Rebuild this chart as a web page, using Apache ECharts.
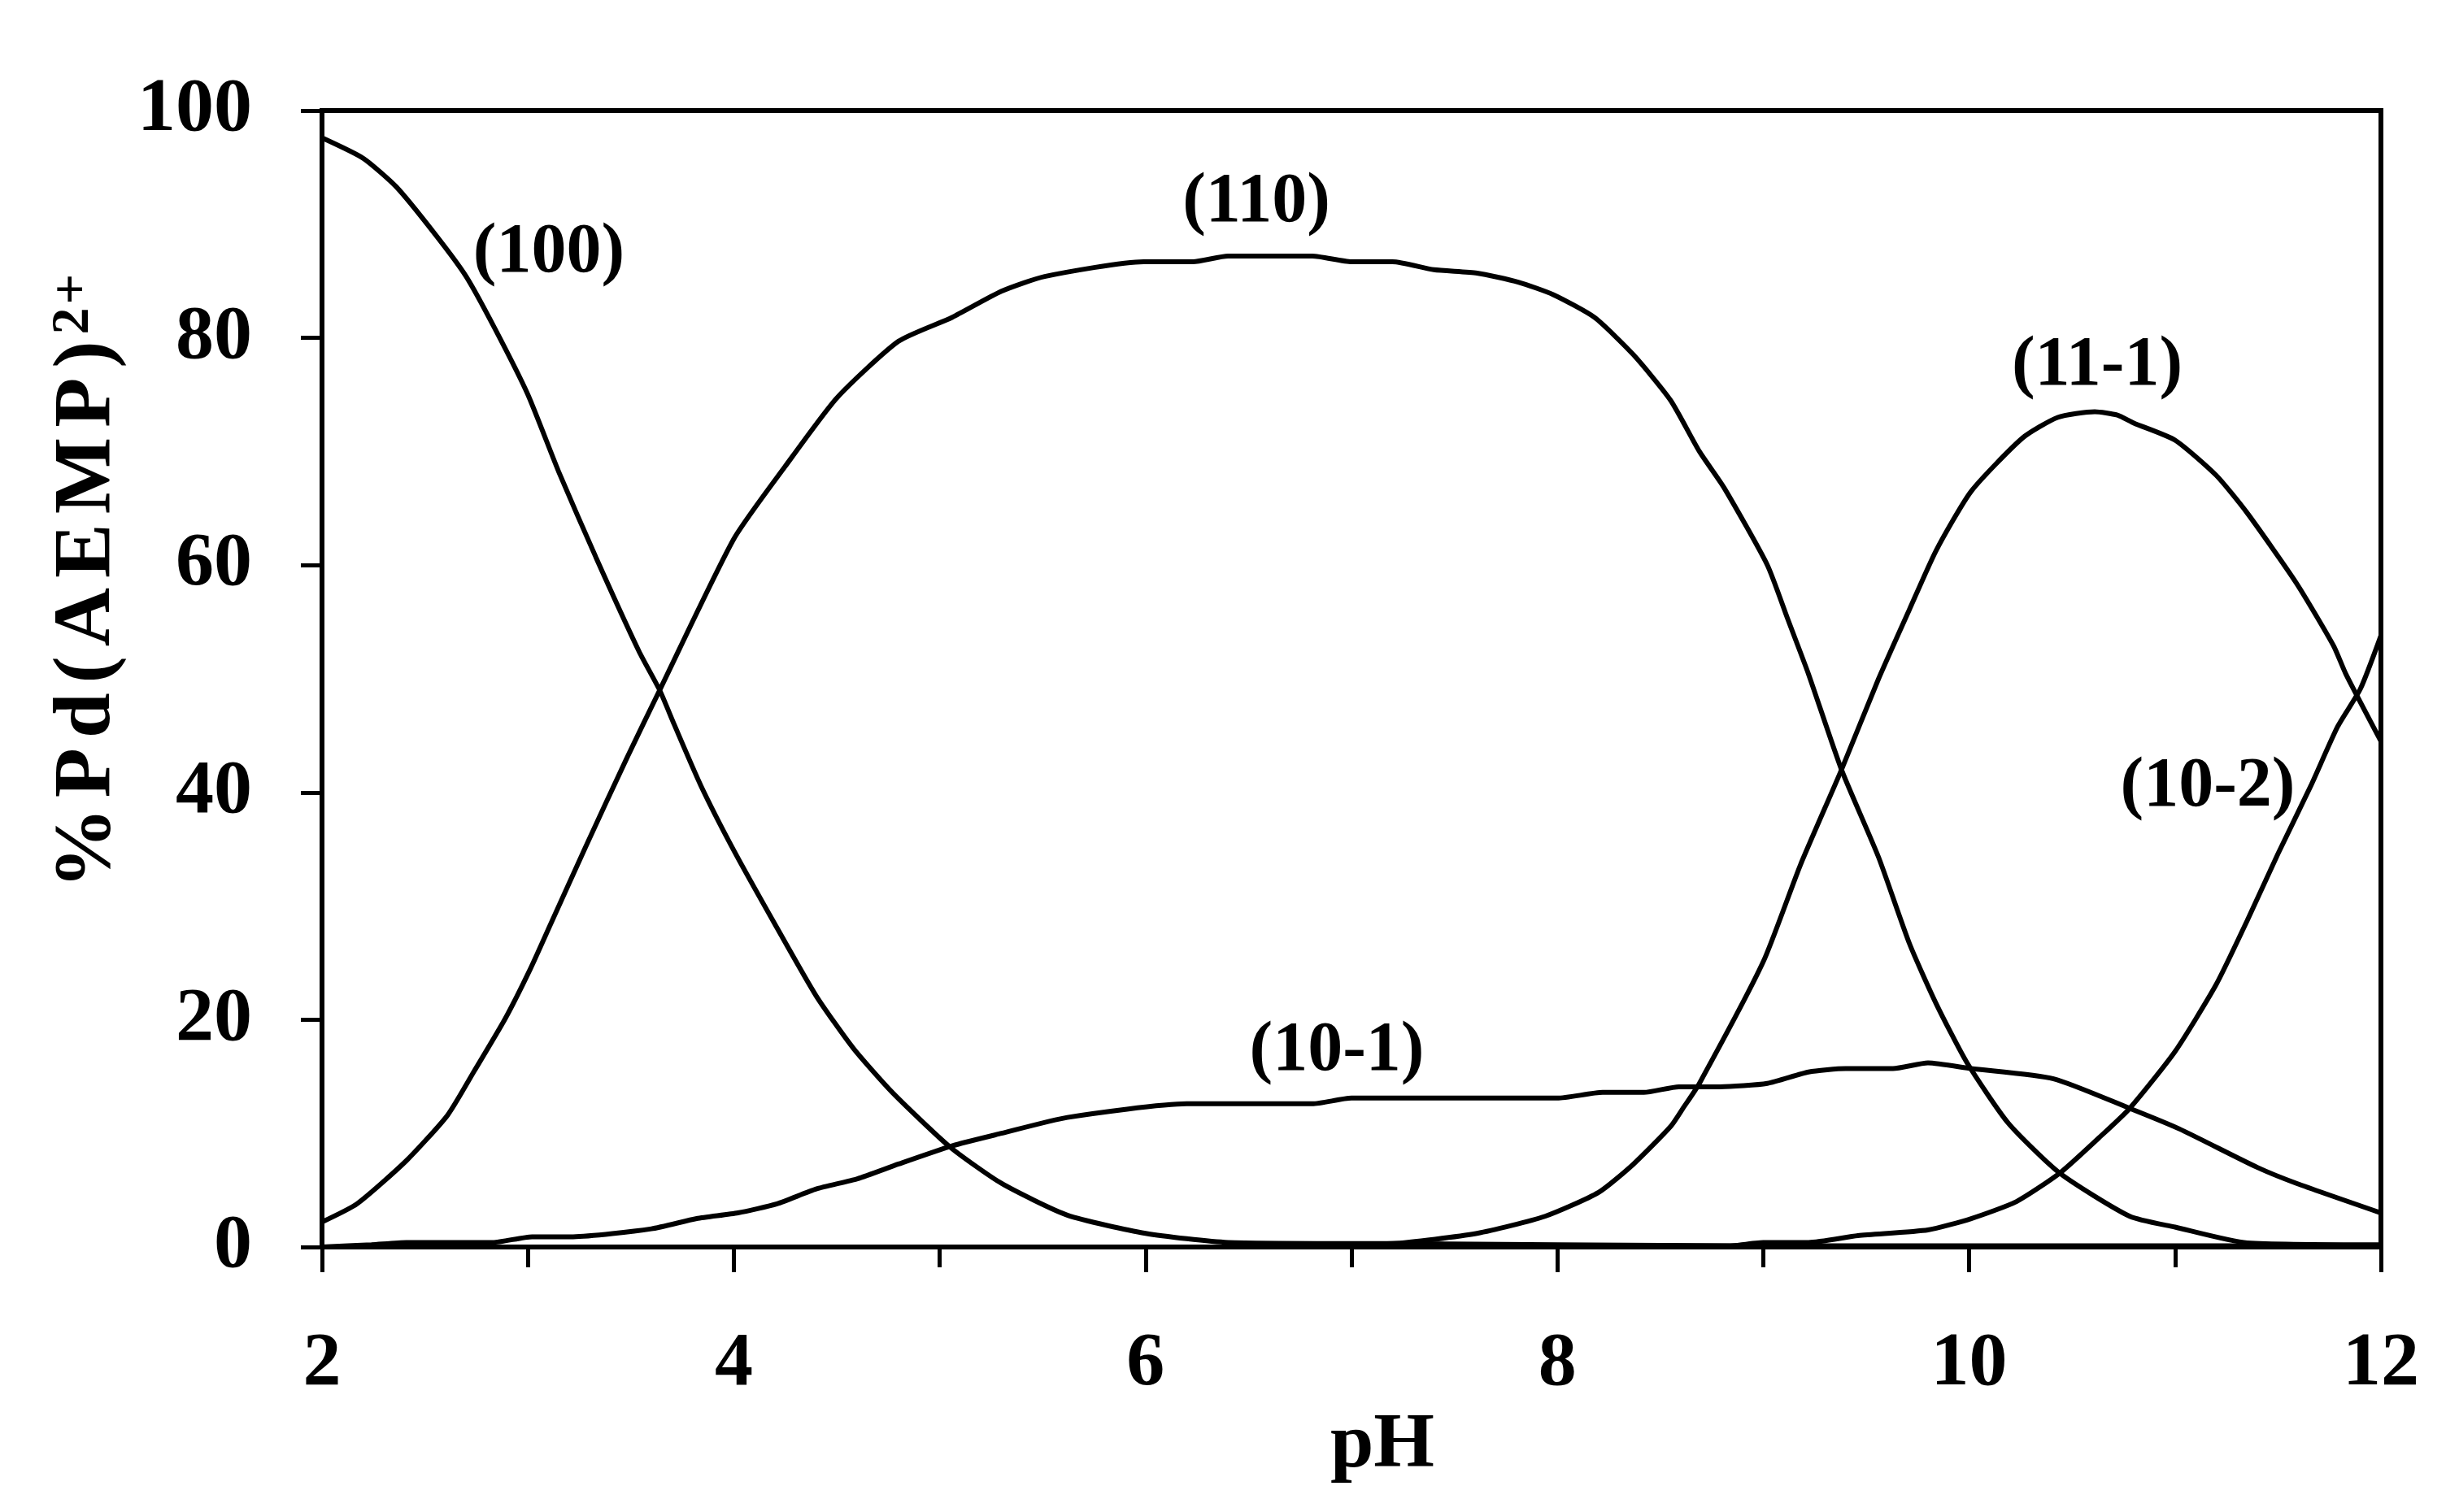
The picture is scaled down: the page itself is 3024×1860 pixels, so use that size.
<!DOCTYPE html>
<html>
<head>
<meta charset="utf-8">
<script src="https://cdn.jsdelivr.net/npm/echarts@6/dist/echarts.min.js"></script>
<style>
html,body{margin:0;padding:0;background:#fff;}
#chart{width:3024px;height:1860px;}
</style>
</head>
<body>
<div id="chart"></div>
<script>
// ---- data (pH, % of Pd) ----
const pH_100 = [2.0, 2.2, 2.36, 2.55, 2.7, 2.84, 3.0, 3.15, 3.33, 3.54, 3.64, 3.71, 3.84, 4.0, 4.2, 4.4, 4.58, 4.77, 5.05, 5.3, 5.62, 6.0, 6.4, 7.2, 8.0, 9.0, 10.0, 11.0, 12.0];
const val_100 = [97.6, 95.8, 93.3, 89.1, 85.4, 80.8, 75.0, 68.2, 60.7, 52.4, 49.0, 46.0, 40.6, 34.9, 28.4, 22.1, 17.5, 13.6, 8.8, 5.6, 2.8, 1.2, 0.4, 0.3, 0.2, 0.1, 0.1, 0.1, 0.1];

const pH_110 = [2.0, 2.17, 2.41, 2.61, 2.74, 2.89, 3.01, 3.11, 3.28, 3.48, 3.64, 4.0, 4.25, 4.5, 4.8, 5.06, 5.3, 5.51, 5.99, 6.23, 6.4, 6.81, 7.0, 7.2, 7.4, 7.61, 7.81, 7.98, 8.18, 8.37, 8.55, 8.69, 8.81, 9.02, 9.12, 9.22, 9.38, 9.56, 9.71, 9.84, 9.99, 10.19, 10.44, 10.78, 11.0, 11.35, 12.0];
const val_110 = [2.2, 3.8, 7.6, 11.6, 15.5, 20.1, 24.4, 28.4, 35.2, 43.0, 49.0, 62.3, 68.7, 74.7, 79.7, 81.8, 84.1, 85.4, 86.7, 86.7, 87.2, 87.2, 86.7, 86.7, 86.0, 85.7, 84.9, 83.8, 81.8, 78.5, 74.5, 70.0, 66.8, 60.0, 55.2, 50.4, 42.0, 34.3, 26.7, 21.4, 16.2, 10.9, 6.5, 2.7, 1.75, 0.36, 0.2];

const pH_10m1 = [2.0, 2.24, 2.41, 2.83, 3.02, 3.22, 3.6, 3.82, 4.02, 4.21, 4.4, 4.6, 4.8, 5.06, 5.3, 5.62, 6.2, 6.81, 7.0, 8.0, 8.22, 8.42, 8.59, 8.79, 9.02, 9.22, 9.4, 9.63, 9.8, 10.01, 10.41, 10.78, 11.02, 11.4, 11.59, 12.0];
const val_10m1 = [0.0, 0.2, 0.4, 0.4, 0.9, 0.9, 1.6, 2.5, 3.0, 3.8, 5.1, 6.0, 7.3, 8.9, 10.0, 11.4, 12.6, 12.6, 13.1, 13.1, 13.6, 13.6, 14.1, 14.1, 14.4, 15.4, 15.7, 15.7, 16.2, 15.7, 14.8, 12.2, 10.4, 7.0, 5.6, 3.0];

const pH_11m1 = [2.0, 6.5, 7.2, 7.61, 7.94, 8.2, 8.37, 8.55, 8.61, 8.69, 9.0, 9.18, 9.38, 9.56, 9.71, 9.84, 10.01, 10.26, 10.43, 10.61, 10.72, 10.8, 11.0, 11.2, 11.35, 11.59, 11.77, 11.83, 12.0];
const val_11m1 = [0.0, 0.0, 0.3, 1.2, 2.7, 4.8, 7.3, 10.6, 12.2, 14.4, 25.1, 33.6, 42.0, 50.0, 56.1, 61.3, 66.5, 71.2, 73.0, 73.5, 73.2, 72.5, 71.0, 67.9, 64.6, 58.4, 52.9, 50.4, 44.5];

const pH_10m2 = [2.0, 8.79, 9.0, 9.22, 9.46, 9.8, 10.01, 10.23, 10.44, 10.63, 10.78, 11.0, 11.2, 11.35, 11.5, 11.66, 11.79, 11.9, 12.0];
const val_10m2 = [0.0, 0.0, 0.4, 0.4, 1.0, 1.5, 2.5, 4.0, 6.5, 9.6, 12.2, 17.2, 23.1, 28.7, 34.6, 40.6, 45.8, 49.1, 53.8];

const seriesNames = ['(100)', '(110)', '(10-1)', '(11-1)', '(10-2)'];
const xTicks = [2, 4, 6, 8, 10, 12];
const yTicks = [0, 20, 40, 60, 80, 100];
const yTitleMain = '%Pd(AEMP)';
const yTitleSup = '2+';
const xTitle = 'pH';

// ---- build ----
const FONT = '"Liberation Serif", "Times New Roman", serif';
function pairs(xs, ys) { return xs.map((x, i) => [x, ys[i]]); }
const allData = [
  pairs(pH_100, val_100),
  pairs(pH_110, val_110),
  pairs(pH_10m1, val_10m1),
  pairs(pH_11m1, val_11m1),
  pairs(pH_10m2, val_10m2)
];

// y-axis title as per-character rich tokens (to reproduce the letter spacing)
const yName = yTitleMain.split('').map(c => '{m|' + c + '}').join('') +
              yTitleSup.split('').map(c => '{s|' + c + '}').join('');

// label anchor positions (pixels)
const labelPos = [[675, 312], [1545, 250], [1644, 1294], [2579, 451], [2715, 969]];

const chart = echarts.init(document.getElementById('chart'), null, {renderer: 'canvas'});
const option = {
  backgroundColor: '#ffffff',
  animation: false,
  textStyle: {fontFamily: FONT, color: '#000'},
  grid: {
    left: 396, right: 96, top: 136, bottom: 326,
    show: true, borderColor: '#000', borderWidth: 6, backgroundColor: 'transparent'
  },
  xAxis: {
    type: 'value', min: xTicks[0], max: xTicks[xTicks.length - 1], interval: 2,
    name: xTitle, nameLocation: 'middle', nameGap: 184,
    nameTextStyle: {fontSize: 96, fontWeight: 'bold', fontFamily: FONT, color: '#000', padding: [0, 0, 0, 76]},
    axisLine: {show: true, onZero: false, lineStyle: {color: '#000', width: 6}},
    axisTick: {show: true, length: 31, lineStyle: {color: '#000', width: 5}},
    minorTick: {show: true, splitNumber: 2, length: 25, lineStyle: {color: '#000', width: 5}},
    splitLine: {show: false},
    minorSplitLine: {show: false},
    axisLabel: {fontSize: 94, fontWeight: 'bold', fontFamily: FONT, color: '#000', margin: 98}
  },
  yAxis: {
    type: 'value', min: yTicks[0], max: yTicks[yTicks.length - 1], interval: 20,
    name: yName, nameLocation: 'middle', nameRotate: 90, nameGap: 226,
    nameTextStyle: {
      fontSize: 100, fontWeight: 'bold', fontFamily: FONT, color: '#000',
      padding: [0, 0, 0, 236],
      rich: {
        m: {fontSize: 100, fontWeight: 'bold', fontFamily: FONT, color: '#000', padding: [0, 6, 0, 6]},
        s: {fontSize: 66, fontWeight: 'bold', fontFamily: FONT, color: '#000', verticalAlign: 'top', padding: [0, 2, 0, 2]}
      }
    },
    axisLine: {show: true, onZero: false, lineStyle: {color: '#000', width: 6}},
    axisTick: {show: true, length: 26, lineStyle: {color: '#000', width: 5}},
    splitLine: {show: false},
    axisLabel: {fontSize: 94, fontWeight: 'bold', fontFamily: FONT, color: '#000', margin: 86}
  },
  series: allData.map((d, i) => ({
    name: seriesNames[i],
    type: 'line',
    data: d,
    showSymbol: false,
    smooth: 0.2,
    clip: true,
    lineStyle: {color: '#000', width: 6},
    emphasis: {disabled: true}
  })),
  graphic: seriesNames.map((n, i) => ({
    type: 'text',
    x: labelPos[i][0], y: labelPos[i][1],
    style: {
      text: n, fill: '#000',
      font: 'bold 86px ' + FONT,
      textAlign: 'center', textVerticalAlign: 'middle'
    },
    z: 100
  }))
};
chart.setOption(option);
</script>
</body>
</html>
